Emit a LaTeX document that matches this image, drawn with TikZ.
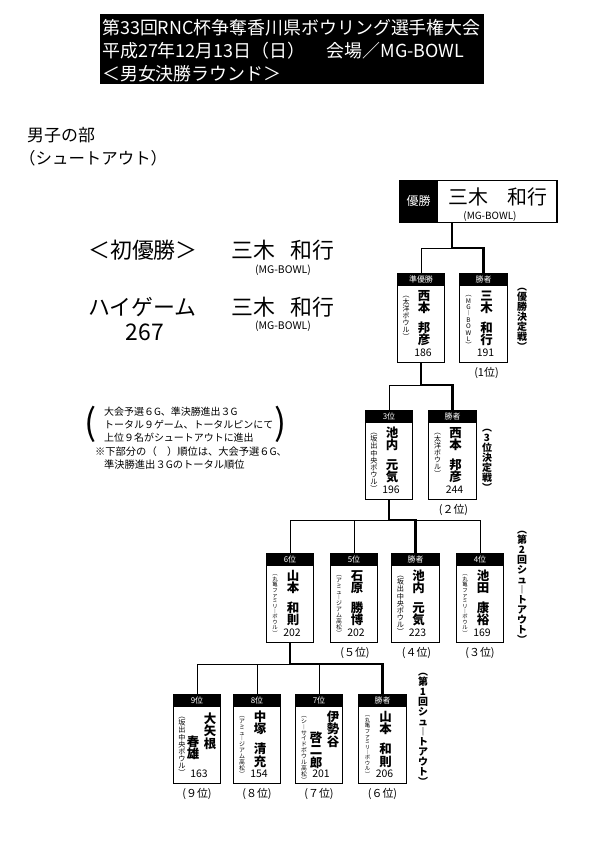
\documentclass[tikz,border=0pt]{standalone}
\usepackage{fontspec}
\setmainfont{Noto Sans CJK JP}
\usetikzlibrary{calc}
\makeatletter
\def\vsp{　}
\newcommand\vstk[1]{\vbox{\offinterlineskip\@tfor\vc:=#1\do{\ifx\vc\vsp\kern.6em\else\hbox to 1em{\vrule height .88em depth .12em width 0pt\hss\vc\hss}\fi}}}
\makeatother
\newcommand\fsz[1]{\fontsize{#1}{#1}\selectfont}
\tikzset{
 pbox/.style={draw,line width=1.1pt,minimum width=48pt,minimum height=89pt,inner sep=0pt,anchor=north},
 phead/.style={fill=black,text=white,minimum width=48pt,minimum height=13pt,inner sep=0pt,anchor=north,font=\fsz{8}},
 affil/.style={anchor=north,inner sep=0pt},
 pname/.style={anchor=north,inner sep=0pt,font=\fsz{12.5}\bfseries},
 pscore/.style={inner sep=0pt,font=\fsz{10.5}},
 rank/.style={inner sep=0pt,font=\fsz{11}},
 side/.style={anchor=north,inner sep=0pt,font=\fsz{10}\bfseries},
 thinline/.style={line width=0.8pt},
 thickline/.style={line width=2.6pt},
 txt/.style={inner sep=0pt,anchor=west},
}
\newcommand\player[8]{%
  \node[phead] (#1h) at (#2,#3) {#4};
  \node[pbox] (#1) at (#2,#3) {};
  \node[affil,font=\fsz{#5}] (#1a) at ($(#2,#3)+(-15,18)$) {\vstk{#6}};
  \node[pscore] (#1s) at ($(#2,#3)+(2,80)$) {#8};
  \if\relax\detokenize{#7}\relax\else
    \node[pname] (#1n) at ($(#2,#3)+(3,16)$) {\vstk{#7}};
  \fi}
\begin{document}
\begin{tikzpicture}[x=1bp,y=-1bp]
\useasboundingbox (0,0) rectangle (595,842);
% title
\node[fill=black,minimum width=385pt,minimum height=70pt,inner sep=0pt,anchor=north west] (tbox) at (100,14) {};
\node[txt,text=white,font=\fsz{18}] (t1) at (102,28) {第33回RNC杯争奪香川県ボウリング選手権大会};
\node[txt,text=white,font=\fsz{18}] (t2) at (102,51) {平成27年12月13日（日）\hspace{1.2em}会場／MG-BOWL};
\node[txt,text=white,font=\fsz{18}] (t3) at (102,74) {＜男女決勝ラウンド＞};
% headings
\node[txt,font=\fsz{17}] (h1) at (27,135) {男子の部};
\node[txt,font=\fsz{16.5}] (h2) at (19,158) {（シュートアウト）};
% left info
\node[txt,font=\fsz{22}] (l1) at (88,250) {＜初優勝＞};
\node[txt,font=\fsz{22}] (l2) at (231,250) {三木\hspace{.7em}和行};
\node[font=\fsz{10.5},inner sep=0pt] (l3) at (283,270) {(MG-BOWL)};
\node[txt,font=\fsz{22}] (l4) at (88,307) {ハイゲーム};
\node[font=\fsz{23},inner sep=0pt] (l5) at (145,332) {267};
\node[txt,font=\fsz{22}] (l6) at (231,307) {三木\hspace{.7em}和行};
\node[font=\fsz{10.5},inner sep=0pt] (l7) at (283,326) {(MG-BOWL)};
% note
\node[font=\fsz{36},inner sep=0pt] (np1) at (91,424) {(};
\node[font=\fsz{36},inner sep=0pt] (np2) at (281,424) {)};
\node[txt,font=\fsz{10}] (n1) at (104,412) {大会予選６G、準決勝進出３G};
\node[txt,font=\fsz{10}] (n2) at (104,425) {トータル９ゲーム、トータルピンにて};
\node[txt,font=\fsz{10}] (n3) at (104,438) {上位９名がシュートアウトに進出};
\node[txt,font=\fsz{10.3}] (n4) at (95,452) {※下部分の（　）順位は、大会予選６G、};
\node[txt,font=\fsz{10.3}] (n5) at (104,465) {準決勝進出３Gのトータル順位};
% winner
\node[fill=black,minimum width=39pt,minimum height=42pt,inner sep=0pt,anchor=north west,text=white,font=\fsz{12}] (winh) at (399,180) {優勝};
\node[draw,line width=1.2pt,minimum width=158pt,minimum height=42pt,inner sep=0pt,anchor=north west] (win) at (399,180) {};
\node[font=\fsz{20},inner sep=0pt] (wn) at (498,197) {三木　和行};
\node[font=\fsz{10},inner sep=0pt] (wc) at (490,216) {(MG-BOWL)};
% final
\player{f1}{421}{273}{準優勝}{7}{︵太洋ボウル︶}{西本　邦彦}{186}
\player{f2}{483.5}{273}{勝者}{6.4}{︵MG︱BOWL︶}{三木　和行}{191}
\node[rank] (f2r) at ($(f2.south)+(3,10)$) {(1位)};
% 3rd place
\player{t1}{389}{410}{3位}{7.2}{︵坂出中央ボウル︶}{池内　元気}{196}
\player{t2}{452.5}{410}{勝者}{7}{︵太洋ボウル︶}{西本　邦彦}{244}
\node[rank] (t2r) at ($(t2.south)+(1,10)$) {(２位)};
% 2nd shootout
\player{s1}{290}{553}{6位}{5.4}{︵丸亀ファミリ︱ボウル︶}{山本　和則}{202}
\player{s2}{354}{553}{5位}{5.9}{︵アミュ︱ジアム高松︶}{石原　勝博}{202}
\player{s3}{415.5}{553}{勝者}{7.2}{︵坂出中央ボウル︶}{池内　元気}{223}
\player{s4}{480}{553}{4位}{5.4}{︵丸亀ファミリ︱ボウル︶}{池田　康裕}{169}
\node[rank] (s2r) at ($(s2.south)+(1,10)$) {(５位)};
\node[rank] (s3r) at ($(s3.south)+(1,10)$) {(４位)};
\node[rank] (s4r) at ($(s4.south)+(0,10)$) {(３位)};
% 1st shootout
\player{r1}{197}{694}{9位}{7.2}{︵坂出中央ボウル︶}{}{163}
\node[pname] (r1n1) at (210,712) {\vstk{大矢根}};
\node[pname] (r1n2) at (193,735) {\vstk{春雄}};
\player{r2}{257}{694}{8位}{5.9}{︵アミュ︱ジアム高松︶}{中塚　清充}{154}
\player{r3}{319}{694}{7位}{5.9}{︵シ︱サイドボウル高松︶}{}{201}
\node[pname] (r3n1) at (333,710) {\vstk{伊勢谷}};
\node[pname] (r3n2) at (316,731) {\vstk{啓二郎}};
\player{r4}{382.5}{694}{勝者}{5.4}{︵丸亀ファミリ︱ボウル︶}{山本　和則}{206}
\node[rank] (r1r) at ($(r1.south)+(0,10)$) {(９位)};
\node[rank] (r2r) at ($(r2.south)+(0,10)$) {(８位)};
\node[rank] (r3r) at ($(r3.south)+(0,10)$) {(７位)};
\node[rank] (r4r) at ($(r4.south)+(0,10)$) {(６位)};
% side labels
\node[side] (sl1) at (522,282) {\vstk{︵優勝決定戦︶}};
\node[side] (sl2) at (487,423) {\vstk{︵3位決定戦︶}};
\node[side] (sl3) at (522,525) {\vstk{︵第2回シュ︱トアウト︶}};
\node[side] (sl4) at (423,667) {\vstk{︵第1回シュ︱トアウト︶}};
% connectors
\coordinate (jf) at (452,248);
\coordinate (jt) at (421,385);
\coordinate (js) at (389,520);
\coordinate (jr) at (290,664);
\draw[thinline] (jf) -| (f1.north);
\draw[thinline] (jt) -| (t1.north);
\draw[thinline] (js) -| (s1.north);
\draw[thinline] (js) -| (s4.north);
\draw[thinline] (s2.north) -- (s2.north |- js);
\draw[thinline] (jr) -| (r1.north);
\draw[thinline] (r2.north) -- (r2.north |- jr);
\draw[thinline] (r3.north) -- (r3.north |- jr);
\draw[thickline] (win.south -| jf) -- (jf) -| (f2.north);
\draw[thickline] (f1.south) -- (jt) -| (t2.north);
\draw[thickline] (t1.south) -- (js) -| (s3.north);
\draw[thickline] (s1.south) -- (jr) -| (r4.north);
\end{tikzpicture}
\end{document}
